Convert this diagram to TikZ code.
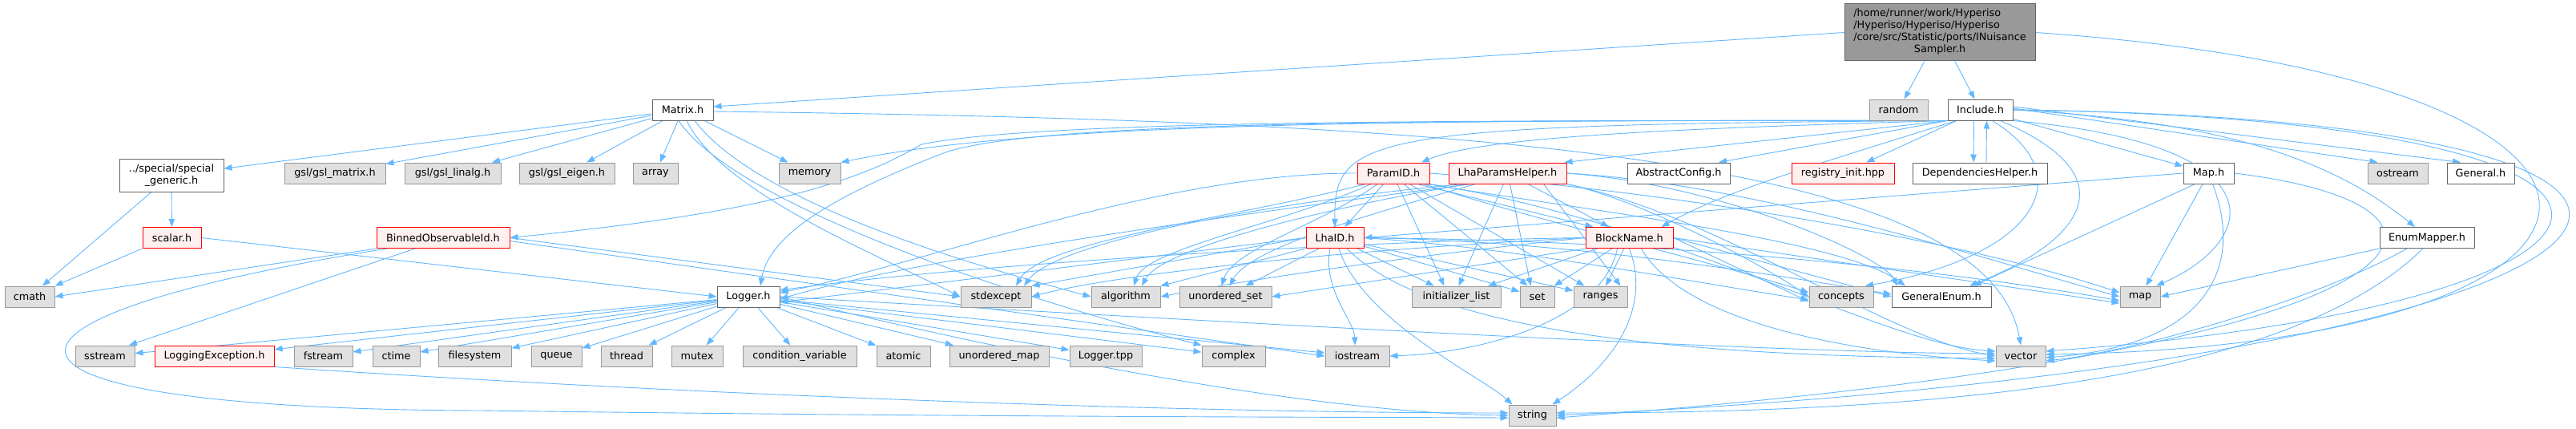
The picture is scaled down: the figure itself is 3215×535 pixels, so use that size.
\documentclass[tikz,border=0pt]{standalone}
\usepackage{fontspec}
\setmainfont{DejaVu Sans}
\usetikzlibrary{arrows.meta}
\pgfdeclarelayer{back}
\pgfdeclarelayer{edges}
\pgfsetlayers{back,edges,main}
\definecolor{edgec}{HTML}{63B8FF}
\definecolor{sysfill}{HTML}{E0E0E0}
\definecolor{sysdraw}{HTML}{999999}
\definecolor{usrdraw}{HTML}{666666}
\definecolor{hdrfill}{HTML}{FFF0F0}
\definecolor{hdrdraw}{HTML}{FF0000}
\definecolor{rootfill}{HTML}{999999}
\tikzset{
  bx/.style={rectangle, inner sep=0pt, minimum height=26pt, line width=1pt, font=\fontsize{12.8}{15}\selectfont},
  sys/.style={bx, fill=sysfill, draw=sysdraw},
  usr/.style={bx, fill=white, draw=usrdraw},
  hdr/.style={bx, fill=hdrfill, draw=hdrdraw},
  e/.style={draw=edgec, line width=0.9pt, -{Triangle[length=10pt,width=7.5pt]}},
}
\begin{document}
\begin{tikzpicture}[x=1pt,y=-1pt]
\begin{pgfonlayer}{back}
\fill[white] (0,0) rectangle (3215,535);
\end{pgfonlayer}
\useasboundingbox (0,0) rectangle (3215,535);
% row 0/1
\node[bx, fill=rootfill, draw=usrdraw, minimum width=238pt, minimum height=71pt] (R) at (2421,40.5)
 {\begin{tabular}{@{}l@{}}/home/runner/work/Hyperiso\\/Hyperiso/Hyperiso/Hyperiso\\/core/src/Statistic/ports/INuisance\\\multicolumn{1}{@{}c@{}}{Sampler.h}\end{tabular}};
\node[usr, minimum width=76pt] (Mx) at (852,137) {Matrix.h};
\node[sys, minimum width=73pt] (rnd) at (2369.5,137) {random};
\node[usr, minimum width=81pt] (Inc) at (2471.5,137) {Include.h};
% row 2
\node[usr, minimum width=130pt, minimum height=41pt, align=center] (sg) at (214,218.5) {../special/special\\\_generic.h};
\node[sys, minimum width=126pt] (gm) at (418,216) {gsl/gsl\_matrix.h};
\node[sys, minimum width=120pt] (gl) at (565,216) {gsl/gsl\_linalg.h};
\node[sys, minimum width=119pt] (ge) at (707.5,216) {gsl/gsl\_eigen.h};
\node[sys, minimum width=56pt] (arr) at (818,216) {array};
\node[sys, minimum width=77pt] (mem) at (1010.5,216) {memory};
\node[hdr, minimum width=90pt] (PID) at (1739,216) {ParamID.h};
\node[hdr, minimum width=147pt] (LPH) at (1881.5,216) {LhaParamsHelper.h};
\node[usr, minimum width=128pt] (AC) at (2095,216) {AbstractConfig.h};
\node[hdr, minimum width=128pt] (reg) at (2300,216) {registry\_init.hpp};
\node[usr, minimum width=168pt] (DH) at (2471,216) {DependenciesHelper.h};
\node[usr, minimum width=63pt] (Map) at (2756.5,216) {Map.h};
\node[sys, minimum width=75pt] (ost) at (2992.5,216) {ostream};
\node[usr, minimum width=84pt] (Gen) at (3096,216) {General.h};
% row 3
\node[hdr, minimum width=73pt] (sc) at (214.5,296.5) {scalar.h};
\node[hdr, minimum width=166pt] (BO) at (553,296.5) {BinnedObservableId.h};
\node[hdr, minimum width=72pt] (LID) at (1666,296.5) {LhaID.h};
\node[hdr, minimum width=109pt] (BN) at (2033.5,296.5) {BlockName.h};
\node[usr, minimum width=118pt] (EM) at (3029,296.5) {EnumMapper.h};
% row 4
\node[sys, minimum width=62pt] (cm) at (37,370) {cmath};
\node[usr, minimum width=78pt] (Log) at (934,370) {Logger.h};
\node[sys, minimum width=88pt] (se) at (1243,370) {stdexcept};
\node[sys, minimum width=86pt] (alg) at (1405,370) {algorithm};
\node[sys, minimum width=115pt] (us) at (1529.5,370) {unordered\_set};
\node[sys, minimum width=111pt] (il) at (1817.5,370) {initializer\_list};
\node[sys, minimum width=43pt] (nset) at (1918.5,370) {set};
\node[sys, minimum width=67pt] (rng) at (1997.5,370) {ranges};
\node[sys, minimum width=80pt] (con) at (2298,370) {concepts};
\node[usr, minimum width=124pt] (GE) at (2423,370) {GeneralEnum.h};
\node[sys, minimum width=50pt] (map) at (2671,370) {map};
% row 5
\node[sys, minimum width=74pt] (ss) at (131,444) {sstream};
\node[hdr, minimum width=149pt] (LE) at (267.5,444) {LoggingException.h};
\node[sys, minimum width=73pt] (fs) at (403.5,444) {fstream};
\node[sys, minimum width=59pt] (ct) at (494.5,444) {ctime};
\node[sys, minimum width=91pt] (fsy) at (592.5,444) {filesystem};
\node[sys, minimum width=63pt] (qu) at (694.5,444) {queue};
\node[sys, minimum width=64pt] (th) at (782,444) {thread};
\node[sys, minimum width=64pt] (mu) at (870,444) {mutex};
\node[sys, minimum width=142pt] (cv) at (998,444) {condition\_variable};
\node[sys, minimum width=67pt] (atm) at (1127.5,444) {atomic};
\node[sys, minimum width=124pt] (um) at (1247,444) {unordered\_map};
\node[sys, minimum width=90pt] (tpp) at (1380,444) {Logger.tpp};
\node[sys, minimum width=79pt] (cx) at (1539.5,444) {complex};
\node[sys, minimum width=80pt] (ios) at (1694,444) {iostream};
\node[sys, minimum width=62pt] (vec) at (2522,444) {vector};
% row 6
\node[sys, minimum width=59pt] (str) at (1912.5,518) {string};

\begin{pgfonlayer}{edges}
% ---- root
\draw[e] (R.west) -- ([yshift=4]Mx.east);
\draw[e] (R) -- (rnd);
\draw[e] (R) -- (Inc);
\draw[e] (R.east) .. controls (3400,100) and (3350,430) .. ([yshift=2]vec.east);
% ---- Include.h
\draw[e] ([xshift=-8]Inc.south) -- ([xshift=-8]DH.north);
\draw[e] ([xshift=8]DH.north) -- ([xshift=8]Inc.south);
\draw[e] (Inc) -- (reg);
\draw[e] (Inc) -- (Map);
\draw[e] ([yshift=2]Inc.east) -- ([xshift=-25]ost.north);
\draw[e] ([yshift=4]Inc.east) -- ([xshift=-25]Gen.north);
\draw[e] (Inc.east) .. controls (2750,150) and (2900,190) .. ([xshift=-15]EM.north);
\draw[e] (Inc.south west) -- ([xshift=50]AC.north);
\draw[e] ([xshift=-30]Inc.south) .. controls (2250,210) and (2150,240) .. ([xshift=40]BN.north);
\draw[e] (Inc.south west) -- ([xshift=-3]LPH.north east);
\draw[e] (Inc.south west) .. controls (2100,160) and (1850,170) .. ([xshift=35]PID.north);
\draw[e] (Inc.south west) .. controls (1700,155) and (1665,170) .. (LID.north);
\draw[e] (Inc.south west) .. controls (1800,150) and (1300,150) .. (1180,190) .. controls (1050,240) and (960,290) .. ([xshift=15]Log.north);
\draw[e] (Inc.south west) .. controls (1800,150) and (1300,150) .. (mem.north east);
\draw[e] (Inc.south west) .. controls (1800,150) and (1300,150) .. (1150,180) .. controls (1050,240) and (900,270) .. (BO.east);
\draw[e] ([xshift=15]Inc.south) .. controls (2600,220) and (2540,320) .. ([xshift=30]con.north);
\draw[e] ([xshift=25]Inc.south) .. controls (2660,220) and (2600,300) .. ([xshift=35]GE.north);
\draw[e] (Inc.south east) .. controls (2850,180) and (2820,300) .. ([xshift=20]map.north);
\draw[e] (Inc.east) .. controls (3450,150) and (3350,380) .. ([yshift=6]vec.east);
\draw[e] (Inc.east) .. controls (3620,150) and (3380,450) .. (str.east);
% ---- Map.h
\draw[e] (Map) -- (map);
\draw[e] ([xshift=-17]Map.south) -- ([xshift=40]GE.north);
\draw[e] ([xshift=5]Map.south) .. controls (2800,330) and (2760,430) .. ([yshift=-2]vec.east);
\draw[e] (Map.west) -- (LID.east);
\draw[e] (Map.east) .. controls (3150,260) and (3050,440) .. ([yshift=-3]str.east);
% ---- EnumMapper.h
\draw[e] (EM.south west) -- (map.east);
\draw[e] ([xshift=-25]EM.south) .. controls (2880,380) and (2650,440) .. ([yshift=-6]vec.east);
\draw[e] ([xshift=-5]EM.south) .. controls (2850,480) and (2400,515) .. ([yshift=3]str.east);
% ---- Matrix.h
\draw[e] (Mx) -- (sg);
\draw[e] (Mx) -- (gm);
\draw[e] (Mx) -- (gl);
\draw[e] (Mx) -- (ge);
\draw[e] (Mx) -- (arr);
\draw[e] (Mx) -- (mem);
\draw[e] ([xshift=5]Mx.south) .. controls (900,240) and (1100,320) .. (se.west);
\draw[e] ([xshift=15]Mx.south) .. controls (950,260) and (1250,340) .. (alg.west);
\draw[e] ([yshift=-2]Mx.east) .. controls (1800,150) and (2480,190) .. (vec.north);
\draw[e] ([xshift=-5]Mx.south) .. controls (920,260) and (1300,380) .. (cx.north west);
% ---- special_generic, scalar
\draw[e] ([xshift=-25]sg.south) -- ([xshift=16]cm.north);
\draw[e] (sg) -- (sc);
\draw[e] (sc.south west) -- (cm.north east);
\draw[e] (sc.east) -- (Log.west);
% ---- BinnedObservableId.h
\draw[e] (BO.south west) -- (cm.east);
\draw[e] ([xshift=-35]BO.south) -- ([xshift=30]ss.north);
\draw[e] ([xshift=-70]BO.south) .. controls (-80,400) and (-60,510) .. (600,512) .. controls (1200,520) and (1600,520) .. ([yshift=-3]str.west);
\draw[e] (BO.east) -- (se.west);
\draw[e] ([yshift=-4]BO.east) -- (ios.west);
% ---- LoggingException.h
\draw[e] (LE.south east) .. controls (900,495) and (1500,515) .. ([yshift=3]str.west);
% ---- Logger.h
\draw[e] (Log) -- (ss);
\draw[e] (Log) -- (LE);
\draw[e] (Log) -- (fs);
\draw[e] (Log) -- (ct);
\draw[e] (Log) -- (fsy);
\draw[e] (Log) -- (qu);
\draw[e] (Log) -- (th);
\draw[e] (Log) -- (mu);
\draw[e] (Log) -- (cv);
\draw[e] (Log) -- (atm);
\draw[e] (Log) -- (um);
\draw[e] (Log) -- (tpp);
\draw[e] (Log) -- (cx);
\draw[e] (Log) -- ([yshift=4]ios.west);
\draw[e] (Log.east) .. controls (1500,400) and (2200,440) .. ([yshift=3]vec.west);
\draw[e] (Log.east) .. controls (1300,450) and (1650,515) .. (str.west);
% ---- ParamID.h
\draw[e] (PID) -- (LID);
\draw[e] ([xshift=30]PID.south) -- ([xshift=-45]BN.north);
\draw[e] ([xshift=5]PID.south) -- ([xshift=-15]il.north);
\draw[e] ([xshift=13]PID.south) -- ([xshift=-12]nset.north);
\draw[e] ([xshift=20]PID.south) -- ([xshift=-20]rng.north);
\draw[e] (PID.west) .. controls (1450,215) and (1150,330) .. ([yshift=5]Log.east);
\draw[e] ([xshift=-35]PID.south) .. controls (1550,270) and (1300,300) .. ([xshift=25]se.north);
\draw[e] ([xshift=-28]PID.south) .. controls (1600,280) and (1430,310) .. ([xshift=10]alg.north);
\draw[e] ([xshift=-20]PID.south) .. controls (1650,280) and (1540,310) .. ([xshift=-5]us.north);
\draw[e] ([xshift=38]PID.south) .. controls (1900,270) and (2150,330) .. ([yshift=5]con.west);
\draw[e] ([xshift=42]PID.south) .. controls (2000,265) and (2300,300) .. ([xshift=-45]GE.north);
\draw[e] (PID.east) .. controls (2100,240) and (2450,300) .. ([yshift=5]map.west);
\draw[e] (PID.south east) .. controls (2100,280) and (2350,430) .. ([yshift=6]vec.west);
% ---- LhaParamsHelper.h
\draw[e] (LPH) -- (BN);
\draw[e] ([xshift=-5]LPH.south) -- ([xshift=3]il.north);
\draw[e] ([xshift=3]LPH.south) -- ([xshift=-8]nset.north);
\draw[e] ([xshift=45]LPH.south) -- ([xshift=25]rng.north);
\draw[e] ([xshift=-45]LPH.south) .. controls (1600,260) and (1150,320) .. ([yshift=-3]Log.east);
\draw[e] ([xshift=-55]LPH.south) .. controls (1600,250) and (1320,300) .. ([xshift=35]se.north);
\draw[e] ([xshift=-50]LPH.south) .. controls (1650,260) and (1450,310) .. ([xshift=20]alg.north);
\draw[e] ([xshift=-40]LPH.south) .. controls (1700,270) and (1560,310) .. ([xshift=5]us.north);
\draw[e] (LPH.south east) .. controls (2050,250) and (2200,330) .. (con.west);
\draw[e] (LPH.east) .. controls (2150,230) and (2350,320) .. ([xshift=-55]GE.north);
\draw[e] (LPH.east) .. controls (2200,230) and (2500,330) .. (map.west);
\draw[e] (LPH.south east) .. controls (2150,270) and (2350,420) .. (vec.west);
% ---- LhaID.h
\draw[e] (LID) -- (il);
\draw[e] (LID) -- (nset);
\draw[e] (LID) -- (rng);
\draw[e] ([xshift=-6]LID.south) .. controls (1650,360) and (1690,400) .. ([xshift=-3]ios.north);
\draw[e] ([xshift=5]LID.south) .. controls (1700,400) and (1850,470) .. ([xshift=-25]str.north);
\draw[e] ([xshift=15]LID.south) .. controls (1800,430) and (2200,445) .. ([yshift=-3]vec.west);
\draw[e] (LID.west) -- ([yshift=-7]Log.east);
\draw[e] (LID.west) -- (se.north east);
\draw[e] (LID.south west) -- (alg.north east);
\draw[e] ([xshift=-20]LID.south) -- ([xshift=25]us.north);
\draw[e] (LID.east) .. controls (1900,310) and (2100,350) .. ([yshift=-4]con.west);
\draw[e] (LID.east) .. controls (1950,300) and (2200,340) .. ([yshift=3]GE.west);
\draw[e] (LID.east) .. controls (2100,300) and (2450,340) .. ([yshift=-5]map.west);
% ---- BlockName.h
\draw[e] (BN) -- (il);
\draw[e] (BN) -- (nset);
\draw[e] (BN) -- (rng);
\draw[e] ([xshift=-15]BN.south) .. controls (2000,400) and (1850,440) .. (ios.east);
\draw[e] (BN.south) .. controls (2060,380) and (2020,450) .. ([xshift=25]str.north);
\draw[e] ([xshift=15]BN.south) .. controls (2100,400) and (2300,440) .. ([yshift=-6]vec.west);
\draw[e] (BN.west) .. controls (1700,300) and (1200,330) .. ([yshift=8]Log.east);
\draw[e] (BN.west) .. controls (1700,310) and (1400,340) .. (se.east);
\draw[e] (BN.west) .. controls (1750,320) and (1550,350) .. (alg.east);
\draw[e] (BN.south west) -- (us.east);
\draw[e] (BN.east) -- ([yshift=-6]con.west);
\draw[e] (BN.east) -- (GE.west);
\draw[e] (BN.east) -- ([yshift=-8]map.west);
\end{pgfonlayer}
\end{tikzpicture}
\end{document}
